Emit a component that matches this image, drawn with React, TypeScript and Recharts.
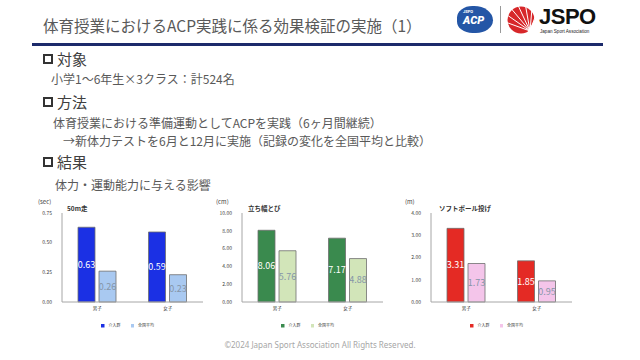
import { BarChart, Bar, XAxis, YAxis, Legend, LabelList } from 'recharts'

const CATEGORIES = ['男子', '女子']
const SERIES_NAMES = ['介入群', '全国平均']

const RUN_50M = [0.63, 0.59]
const RUN_50M_NATIONAL = [0.26, 0.23]
const JUMP = [8.06, 7.17]
const JUMP_NATIONAL = [5.76, 4.88]
const THROW = [3.31, 1.85]
const THROW_NATIONAL = [1.73, 0.95]

const RUN_TICKS = [0, 0.25, 0.5, 0.75]
const JUMP_TICKS = [0, 2, 4, 6, 8, 10]
const THROW_TICKS = [0, 1, 2, 3, 4]

const JP = '"Noto Sans CJK JP", "Noto Sans", sans-serif'

interface ChartSpec {
  title: string; unit: string; left: number
  group: number[]; national: number[]; ticks: number[]
  colors: [string, string]
  unitX: number; titleX: number
}

const CHARTS: ChartSpec[] = [
  { title: '50m走', unit: '(sec)', left: 20, group: RUN_50M, national: RUN_50M_NATIONAL, ticks: RUN_TICKS,
    colors: ['#1B30E4', '#A9C9F1'], unitX: 38, titleX: 67 },
  { title: '立ち幅とび', unit: '(cm)', left: 200, group: JUMP, national: JUMP_NATIONAL, ticks: JUMP_TICKS,
    colors: ['#3A8A4E', '#D2E5B9'], unitX: 216, titleX: 248 },
  { title: 'ソフトボール投げ', unit: '(m)', left: 389, group: THROW, national: THROW_NATIONAL, ticks: THROW_TICKS,
    colors: ['#E42A24', '#F4C5EA'], unitX: 405, titleX: 439 },
]

function SmallChart({ spec }: { spec: ChartSpec }) {
  const data = CATEGORIES.map((c, i) => ({ name: c, group: spec.group[i], national: spec.national[i] }))
  const max = spec.ticks[spec.ticks.length - 1]
  return (
    <>
      <div style={{ position: 'absolute', left: spec.unitX, top: 198, fontSize: 6, lineHeight: '8px', color: '#404040', fontFamily: JP }}>{spec.unit}</div>
      <div style={{ position: 'absolute', left: spec.titleX, top: 203, fontSize: 6.5, lineHeight: '10px', fontWeight: 700, color: '#333', fontFamily: JP, whiteSpace: 'nowrap' }}>{spec.title}</div>
      <div style={{ position: 'absolute', left: spec.left, top: 195 }}>
        <BarChart width={183} height={140} data={data} barSize={17} barGap={4}
          margin={{ top: 18, right: 0, left: 0, bottom: 5 }} style={{ fontFamily: JP }}>
          <XAxis dataKey="name" height={18} tickSize={0} tickMargin={5} stroke="#A6A6A6"
            tick={{ fontSize: 4.5, fill: '#404040' }} />
          <YAxis width={42} domain={[0, max]} ticks={spec.ticks} tickSize={0} tickMargin={10} stroke="#A6A6A6"
            tick={{ fontSize: 5, fill: '#404040' }} tickFormatter={(v: number) => v.toFixed(2)} />
          <Legend iconType="square" iconSize={3.5}
            wrapperStyle={{ left: 42, width: 141, height: 10, lineHeight: '10px', fontSize: 4, color: '#404040' }}
            formatter={(v: string) => <span style={{ color: '#404040' }}>{v}</span>} />
          <Bar dataKey="group" name={SERIES_NAMES[0]} fill={spec.colors[0]} stroke="#6E6E6E" strokeWidth={0.8} isAnimationActive={false}>
            <LabelList dataKey="group" position="center" fill="#FFFFFF" fontSize={9} formatter={(v: number) => v.toFixed(2)} />
          </Bar>
          <Bar dataKey="national" name={SERIES_NAMES[1]} fill={spec.colors[1]} stroke="#6E6E6E" strokeWidth={0.8} isAnimationActive={false}>
            <LabelList dataKey="national" position="center" fill="#8595A8" fontSize={9} formatter={(v: number) => v.toFixed(2)} />
          </Bar>
        </BarChart>
      </div>
    </>
  )
}

function Section({ top, label }: { top: number; label: string }) {
  return (
    <>
      <div style={{ position: 'absolute', left: 43, top: top - 5, width: 6, height: 6, border: '2.5px solid #333' }} />
      <div style={{ position: 'absolute', left: 57, top: top - 8, fontSize: 15, lineHeight: '16px', color: '#404040', fontFamily: JP }}>{label}</div>
    </>
  )
}

function Line({ x, y, text }: { x: number; y: number; text: string }) {
  return (
    <div style={{ position: 'absolute', left: x, top: y - 7, fontSize: 12, lineHeight: '14px', color: '#595959', fontFamily: JP, whiteSpace: 'nowrap' }}>{text}</div>
  )
}

function Logos() {
  const rays = [200, 215, 230, 245, 260, 275, 290, 305]
  return (
    <>
      <div style={{ position: 'absolute', left: 457, top: 6, width: 36, height: 27, background: '#2456A6', borderRadius: '45% 55% 50% 45%', color: '#fff', fontFamily: 'Roboto, sans-serif' }}>
        <div style={{ position: 'absolute', left: 6, top: 3, fontSize: 4, fontWeight: 700 }}>JSPO</div>
        <div style={{ position: 'absolute', left: 6, top: 9, fontSize: 11, fontWeight: 900, fontStyle: 'italic', lineHeight: '11px' }}>ACP</div>
      </div>
      <div style={{ position: 'absolute', left: 500, top: 6, width: 1, height: 27, background: '#999' }} />
      <svg style={{ position: 'absolute', left: 506, top: 5 }} width={30} height={30}>
        <circle cx={15} cy={15} r={13.5} fill="#D7272A" />
        {rays.map(a => (
          <line key={a} x1={24} y1={26} x2={24 + 30 * Math.cos(a * Math.PI / 180)} y2={26 + 30 * Math.sin(a * Math.PI / 180)} stroke="#fff" strokeWidth={1} />
        ))}
        <polygon points="20,30 30,12 30,30" fill="#fff" />
      </svg>
      <div style={{ position: 'absolute', left: 539, top: 5, fontSize: 22, lineHeight: '24px', fontWeight: 700, color: '#111', fontFamily: '"Liberation Sans", Arial, sans-serif', letterSpacing: -0.5 }}>JSPO</div>
      <div style={{ position: 'absolute', left: 540, top: 29, fontSize: 4.6, lineHeight: '6px', color: '#222', fontFamily: '"Liberation Sans", sans-serif', whiteSpace: 'nowrap' }}>Japan Sport Association</div>
    </>
  )
}

export default function App() {
  return (
    <div style={{ position: 'absolute', left: 0, top: 0, width: 640, height: 360, background: '#fff', overflow: 'hidden' }}>
      <div style={{ position: 'absolute', left: 43, top: 16, fontSize: 15.5, lineHeight: '18px', color: '#595959', fontFamily: JP, whiteSpace: 'nowrap' }}>
        体育授業におけるACP実践に係る効果検証の実施（1）
      </div>
      <Logos />
      <div style={{ position: 'absolute', left: 32, top: 43, width: 571, height: 3, background: '#1C2A6B' }} />

      <Section top={59} label="対象" />
      <Line x={51} y={79} text="小学1～6年生×3クラス：計524名" />
      <Section top={102} label="方法" />
      <Line x={53} y={123} text="体育授業における準備運動としてACPを実践（6ヶ月間継続）" />
      <Line x={63} y={141} text="→新体力テストを6月と12月に実施（記録の変化を全国平均と比較）" />
      <Section top={162} label="結果" />
      <Line x={55} y={185} text="体力・運動能力に与える影響" />

      {CHARTS.map(c => <SmallChart key={c.title} spec={c} />)}

      <div style={{ position: 'absolute', left: 0, width: 640, top: 340, textAlign: 'center', fontSize: 8, lineHeight: '10px', color: '#A6A6A6', fontFamily: '"Noto Sans", sans-serif' }}>
        ©2024 Japan Sport Association All Rights Reserved.
      </div>
    </div>
  )
}
